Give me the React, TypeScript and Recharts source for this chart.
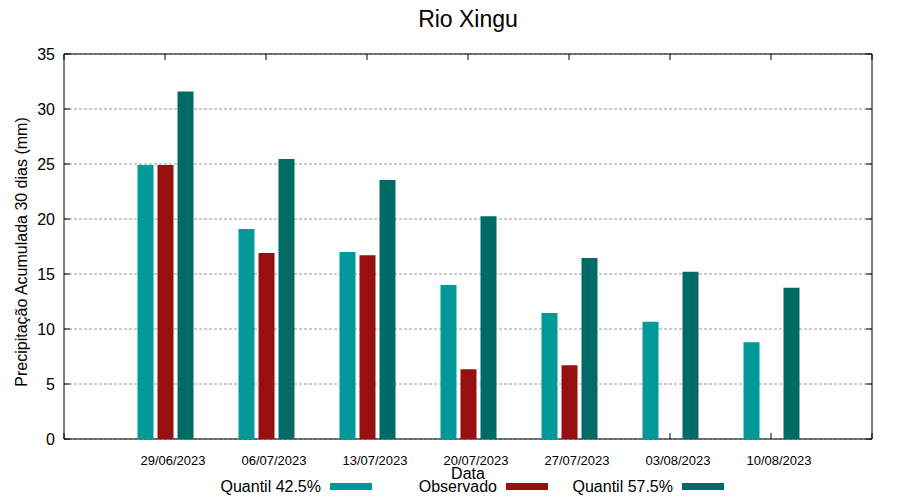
import React from 'react';
import { BarChart, Bar, XAxis, YAxis, CartesianGrid, Legend, ReferenceArea } from 'recharts';

const dates = ['29/06/2023', '06/07/2023', '13/07/2023', '20/07/2023', '27/07/2023', '03/08/2023', '10/08/2023'];
const quantil425 = [24.9, 19.1, 17.0, 14.0, 11.45, 10.65, 8.8];
const observado = [24.9, 16.9, 16.7, 6.35, 6.7, null, null];
const quantil575 = [31.6, 25.45, 23.55, 20.25, 16.45, 15.2, 13.75];
const yTicks = [0, 5, 10, 15, 20, 25, 30, 35];
const seriesNames = ['Quantil 42.5%', 'Observado', 'Quantil 57.5%'];

// x is the position of each date (1..7), the axis runs from 0 to 8 like gnuplot's
const xTicks = dates.map((_, i) => i + 1);
const data = dates.map((d, i) => ({
  pos: i + 1,
  date: d,
  q425: quantil425[i],
  obs: observado[i],
  q575: quantil575[i],
}));

const FONT = '"Liberation Sans", Arial, sans-serif';
const TICK_LEN = 6;

const BottomTick = (props: any) => {
  const { x, y, payload } = props;
  return (
    <text x={x + 8} y={y + 26} textAnchor="middle" fontSize={13} fontFamily={FONT} fill="#000">
      {dates[payload.value - 1]}
    </text>
  );
};

const LeftTick = (props: any) => {
  const { x, y, payload } = props;
  return (
    <text x={x - 9} y={y + 6} textAnchor="end" fontSize={16} fontFamily={FONT} fill="#000">
      {payload.value}
    </text>
  );
};

// dashed grid line + inward tick marks on both ends (gnuplot style)
const HLine = (props: any) => {
  const { x1, x2, y1, index } = props;
  return (
    <g key={`h-${index}`}>
      <line x1={x1} x2={x2} y1={y1} y2={y1} stroke="#999" strokeDasharray="3 2" />
      <line x1={x1} x2={x1 + TICK_LEN} y1={y1} y2={y1} stroke="#000" />
      <line x1={x2} x2={x2 - TICK_LEN} y1={y1} y2={y1} stroke="#000" />
    </g>
  );
};

// only the tick marks at bottom and top, no vertical grid
const VLine = (props: any) => {
  const { x1, y1, y2, index } = props;
  return (
    <g key={`v-${index}`}>
      <line x1={x1} x2={x1} y1={y2} y2={y2 - TICK_LEN} stroke="#000" />
      <line x1={x1} x2={x1} y1={y1} y2={y1 + TICK_LEN} stroke="#000" />
    </g>
  );
};

const YLabel = () => (
  <text
    x={27}
    y={252}
    transform="rotate(-90 27 252)"
    textAnchor="middle"
    fontSize={16}
    fontFamily={FONT}
    fill="#000"
  >
    Precipitação Acumulada 30 dias (mm)
  </text>
);

const XLabel = () => (
  <text x={468} y={479} textAnchor="middle" fontSize={16} fontFamily={FONT} fill="#000">
    Data
  </text>
);

const Title = () => (
  <text x={468} y={27} textAnchor="middle" fontSize={23} fontFamily={FONT} fill="#000">
    Rio Xingu
  </text>
);

const renderLegend = (props: any) => {
  const payload = (props.payload || [])
    .filter((e: any) => seriesNames.includes(e.value))
    .sort((a: any, b: any) => seriesNames.indexOf(a.value) - seriesNames.indexOf(b.value));
  return (
    <svg width={900} height={24} style={{ display: 'block' }}>
      {payload.map((entry: any, i: number) => {
        const end = 321 + i * 176;
        return (
          <g key={i}>
            <text x={end} y={20} textAnchor="end" fontSize={16} fontFamily={FONT} fill="#000">
              {entry.value}
            </text>
            <rect x={end + 9} y={11} width={42} height={7} fill={entry.color} />
          </g>
        );
      })}
    </svg>
  );
};

export default function App() {
  return (
    <div style={{ position: 'absolute', left: 0, top: 0, width: 900, height: 500, background: '#fff' }}>
      <BarChart
        width={900}
        height={500}
        data={data}
        margin={{ top: 54, right: 28, left: 0, bottom: 0 }}
        barSize={16}
        barGap={4}
      >
        <CartesianGrid horizontal={HLine} vertical={VLine} />
        <XAxis
          dataKey="pos"
          type="number"
          domain={[0, 8]}
          ticks={xTicks}
          height={61}
          axisLine={false}
          tickLine={false}
          tickSize={0}
          tickMargin={0}
          tick={<BottomTick />}
          interval={0}
          label={<XLabel />}
        />
        <YAxis
          width={64}
          domain={[0, 35]}
          ticks={yTicks}
          type="number"
          axisLine={false}
          tickLine={false}
          tickSize={0}
          tickMargin={0}
          tick={<LeftTick />}
          interval={0}
          label={<YLabel />}
        />
        <Legend
          verticalAlign="middle"
          align="center"
          content={renderLegend}
          wrapperStyle={{ top: 472, left: 0, width: 900, height: 24 }}
        />
        <Bar dataKey="q425" name="Quantil 42.5%" fill="#009999" isAnimationActive={false} />
        <Bar dataKey="obs" name="Observado" fill="#970f0f" isAnimationActive={false} />
        <Bar dataKey="q575" name="Quantil 57.5%" fill="#006a66" isAnimationActive={false} />
        {/* plot frame */}
        <ReferenceArea
          x1={0}
          x2={8}
          y1={0}
          y2={35}
          fill="none"
          stroke="#000"
          strokeOpacity={1}
          label={<Title />}
        />
      </BarChart>
    </div>
  );
}
